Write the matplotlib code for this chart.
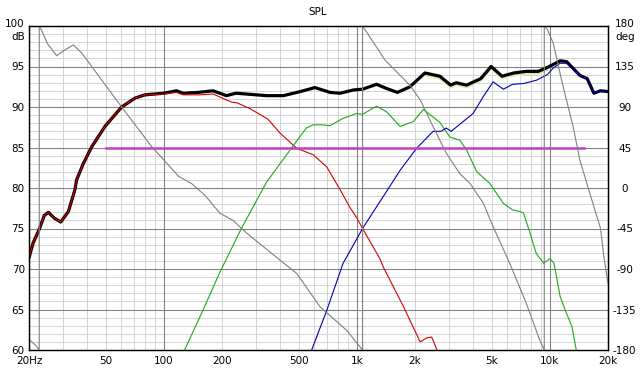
import matplotlib
matplotlib.use("Agg")
import matplotlib.pyplot as plt
from matplotlib.transforms import ScaledTranslation

plt.rcParams['font.family'] = ['DejaVu Sans']

# ---------------- data ----------------
sum_freq = [20, 21, 22.6, 24, 25.2, 27, 29.2, 32, 34.6, 35.3, 38.2, 42.3, 49.5, 60.4, 70.9, 79.8,
            100, 116, 126, 150, 180, 211, 236, 268, 340, 416, 508, 606, 726, 818, 958, 1070,
            1264, 1420, 1620, 1886, 2250, 2690, 3060, 3270, 3700, 4380, 4960, 5650, 6500,
            7540, 8700, 9750, 11300, 12200, 14300, 15600, 16900, 18300, 20000]
sum_db = [71.4, 73.2, 74.9, 76.6, 77.0, 76.3, 75.8, 77.1, 79.8, 81.0, 83.0, 85.1, 87.6, 90.0, 91.1, 91.5,
          91.7, 92.0, 91.7, 91.8, 92.0, 91.4, 91.7, 91.6, 91.4, 91.4, 91.9, 92.4, 91.8, 91.7, 92.1, 92.2,
          92.8, 92.3, 91.8, 92.5, 94.2, 93.8, 92.7, 93.0, 92.7, 93.5, 95.0, 93.8, 94.2,
          94.4, 94.4, 94.9, 95.7, 95.6, 93.9, 93.5, 91.7, 92.0, 91.9]

alt_freq = [2250, 2690, 3060, 3270, 3700, 4380, 4960, 5650, 6500, 7540, 8700, 9750]
alt_db = [93.9, 93.5, 92.4, 92.7, 92.4, 93.2, 94.7, 93.5, 93.9, 94.1, 94.1, 94.6]

woofer_freq = [20, 21, 22.6, 24, 25.2, 27, 29.2, 32, 34.6, 35.3, 38.2, 42.3, 49.5, 60.4, 70.9, 79.8,
               100, 116, 126, 154, 180, 205, 225, 240, 279, 346, 399, 488, 594, 698, 818, 920,
               1000, 1070, 1314, 1366, 1740, 2127, 2300, 2440, 2600, 2700]
woofer_db = [71.4, 73.2, 74.9, 76.6, 77.0, 76.3, 75.8, 77.1, 79.8, 81.0, 83.0, 85.1, 87.6, 90.0, 91.1, 91.5,
             91.6, 91.8, 91.5, 91.5, 91.6, 91.0, 90.6, 90.5, 89.8, 88.5, 86.8, 84.9, 84.1, 82.6, 79.8, 77.6,
             76.3, 75.0, 71.3, 70.3, 65.4, 61.0, 61.5, 61.6, 60.0, 58.0]

mid_freq = [115, 128, 160, 195, 252, 340, 477, 547, 594, 650, 726, 848, 996, 1070, 1264, 1426,
            1676, 1960, 2210, 2690, 3030, 3412, 3700, 4180, 4870, 5740, 6400, 7000, 7300,
            7900, 8500, 9300, 10000, 10500, 11300, 12200, 13000, 13700, 14500]
mid_db = [57.5, 60.0, 65.0, 69.6, 75.0, 80.7, 85.5, 87.4, 87.8, 87.8, 87.7, 88.6, 89.2, 89.1, 90.1, 89.4,
          87.6, 88.2, 89.7, 88.1, 86.3, 85.9, 84.7, 82.0, 80.6, 78.1, 77.3, 77.1, 76.9,
          74.4, 71.9, 70.7, 71.3, 70.7, 66.6, 64.5, 62.9, 60.0, 57.0]

tweeter_freq = [550, 583, 698, 848, 920, 1070, 1314, 1366, 1676, 2038, 2484, 2730, 2900, 3080,
                3550, 4000, 4520, 5080, 5740, 6400, 7300, 8500, 9700, 10400, 11300, 12200,
                14300, 15600, 16900, 18300, 20000]
tweeter_db = [58.0, 60.0, 64.9, 70.7, 72.2, 75.0, 78.3, 78.9, 82.2, 84.9, 87.0, 87.0, 87.4, 87.0,
              88.2, 89.2, 91.3, 93.1, 92.2, 92.8, 92.9, 93.3, 94.0, 94.8, 95.4, 95.4,
              93.9, 93.5, 91.7, 92.0, 91.9]

target_freq = [50, 15000]
target_db = [85, 85]

phase_freq = [20, 21.9, 22.6, 22.6, 22.8, 25, 27.8, 30.5, 33.9, 37.5, 47.6, 60.4, 86.4, 100, 119, 139,
              163, 195, 228, 268, 399, 488, 644, 884, 1070, 1070, 1400, 1886, 2127, 2484, 2900,
              3412, 3860, 4520, 5080, 6200, 7540, 8860, 9350, 9350, 9700, 10400, 11700, 13200,
              14300, 16100, 18300, 19000, 20000]
phase_deg = [-168, -176, -180, 180, 179, 160, 147, 153, 159, 150, 120, 90, 46, 31, 13, 5,
             -8, -28, -36, -50, -80, -95, -132, -158, -180, 180, 142, 114, 98, 68, 39,
             16, 5, -17, -43, -84, -128, -169, -180, 180, 176, 161, 113, 68,
             31, -6, -45, -75, -106]

xtick_vals = [20, 50, 100, 200, 500, 1000, 2000, 5000, 10000, 20000]
xtick_labels = ['20Hz', '50', '100', '200', '500', '1k', '2k', '5k', '10k', '20k']
ytick_vals = [60, 65, 70, 75, 80, 85, 90, 95, 100]
ptick_vals = [-180, -135, -90, -45, 0, 45, 90, 135, 180]

# ---------------- figure ----------------
W, H = 642, 387
fig = plt.figure(figsize=(W / 100, H / 100), dpi=100)
fig.patch.set_facecolor('white')
ax = fig.add_axes([29 / W, (H - 350) / H, 579 / W, 324 / H])
ax2 = ax.twinx()

ax.set_xscale('log')
ax.set_xlim(20, 20000)
ax.set_ylim(60, 100)
ax2.set_ylim(-180, 180)

light = '#d6d6d6'
dark = '#808080'
minor_f = []
for dec in (10, 100, 1000, 10000):
    for m in range(2, 10):
        f = dec * m
        if 20 < f < 20000:
            minor_f.append(f)
for f in minor_f:
    ax.axvline(f, color=light, lw=0.75, zorder=0)
for v in range(61, 100):
    if v % 5:
        ax.axhline(v, color=light, lw=0.75, zorder=0)
for v in range(65, 100, 5):
    ax.axhline(v, color=dark, lw=0.75, zorder=0.5)
for f in (100, 1000, 10000):
    ax.axvline(f, color=dark, lw=0.75, zorder=0.5)

# SPL curves
ax.plot(alt_freq, alt_db, color='#e6e6b4', lw=1.4, zorder=2)
ax.plot(sum_freq, sum_db, color='black', lw=2.3, zorder=3, solid_joinstyle='round')
ax.plot(woofer_freq, woofer_db, color='#d40000', lw=0.8, zorder=4)
ax.plot(mid_freq, mid_db, color='#1aaa1a', lw=0.8, zorder=4)
ax.plot(tweeter_freq, tweeter_db, color='#0000b4', lw=0.8, zorder=4)
ax.plot(target_freq, target_db, color='#c040c0', lw=1.8, zorder=4)

# phase (right axis)
ax2.plot(phase_freq, phase_deg, color='#808080', lw=0.8)

# ticks
ax.set_xticks(xtick_vals)
ax.set_xticklabels(xtick_labels)
ax.xaxis.set_minor_locator(matplotlib.ticker.NullLocator())
ax.set_yticks(ytick_vals)
ax.set_yticklabels([str(v) for v in ytick_vals])
ax.tick_params(axis='x', length=0, pad=4, labelsize=7.5)
ax.tick_params(axis='y', length=0, pad=3, labelsize=7.5)
ax2.set_yticks(ptick_vals)
ax2.set_yticklabels([str(v) for v in ptick_vals])
ax2.tick_params(axis='y', length=0, pad=12, labelsize=7.5)
for lbl in ax2.get_yticklabels():
    lbl.set_horizontalalignment('center')

# nudge the top labels upward a little so the unit labels fit beneath
up = ScaledTranslation(0, 2.5 / 72, fig.dpi_scale_trans)
ax.get_yticklabels()[-1].set_transform(ax.get_yticklabels()[-1].get_transform() + up)
ax2.get_yticklabels()[-1].set_transform(ax2.get_yticklabels()[-1].get_transform() + up)

for a in (ax, ax2):
    for s in a.spines.values():
        s.set_color('black')
        s.set_linewidth(0.9)

fig.text(25 / W, 1 - 36.5 / H, 'dB', ha='right', va='center', fontsize=7.5)
fig.text(625 / W, 1 - 36.5 / H, 'deg', ha='center', va='center', fontsize=7.5)
fig.text(318 / W, 1 - 12 / H, 'SPL', ha='center', va='center', fontsize=7.5)

fig.savefig('out.png', dpi=100)
